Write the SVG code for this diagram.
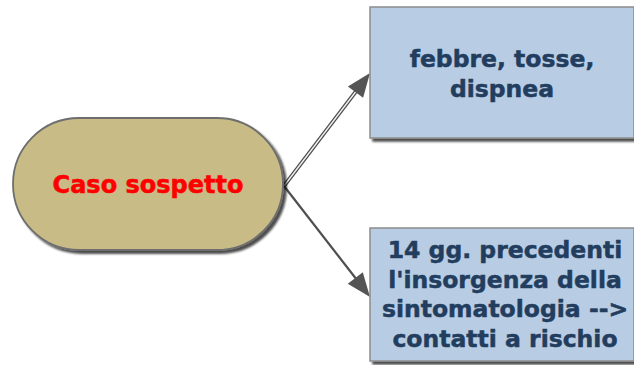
<svg xmlns="http://www.w3.org/2000/svg" width="634" height="365" viewBox="0 0 634 365">
<style>
.lbl{font-family:"DejaVu Sans","Verdana",sans-serif;font-weight:bold;text-anchor:middle;stroke-width:0.5}
.box{fill:#b8cde4;stroke:#8c8c8c;stroke-width:1.5}
.boxtxt{fill:#223d5e;stroke:#223d5e;font-size:23.5px}
.main{fill:#ff0000;stroke:#ff0000;font-size:24px}
.pill{fill:#c8bb85;stroke:#6e6e6e;stroke-width:1.8}
.head{fill:#555555}
</style>
<defs>
<filter id="sh" x="-10%" y="-10%" width="130%" height="130%">
<feGaussianBlur in="SourceAlpha" stdDeviation="1.2"/>
<feOffset dx="3" dy="3" result="b"/>
<feComponentTransfer><feFuncA type="linear" slope="0.7"/></feComponentTransfer>
<feMerge><feMergeNode/><feMergeNode in="SourceGraphic"/></feMerge>
</filter>
</defs>
<g id="connectors">
<line x1="284" y1="186" x2="357" y2="90" stroke="#4a4a4a" stroke-width="3.8"/>
<line x1="284" y1="186" x2="357" y2="90" stroke="#f2f2f2" stroke-width="1.4"/>
<polygon class="head" points="370,73 363.1,97.8 347.9,86.4"/>
<line x1="284" y1="186" x2="357" y2="280" stroke="#4f4f4f" stroke-width="2.2"/>
<polygon class="head" points="370,297 347.8,283.8 362.8,272.2"/>
</g>
<g id="node-caso">
<rect class="pill" x="13" y="118" width="270" height="132" rx="66" ry="66" filter="url(#sh)"/>
<text class="lbl main" x="148" y="193">Caso sospetto</text>
</g>
<g id="node-sintomi">
<rect class="box" x="370" y="7" width="264" height="131" filter="url(#sh)"/>
<text class="lbl boxtxt" x="502" y="67">febbre, tosse,</text>
<text class="lbl boxtxt" x="502" y="97">dispnea</text>
</g>
<g id="node-contatti">
<rect class="box" x="370" y="228" width="264" height="133" filter="url(#sh)"/>
<text class="lbl boxtxt" x="505" y="258">14 gg. precedenti</text>
<text class="lbl boxtxt" x="505" y="288">l'insorgenza della</text>
<text class="lbl boxtxt" x="505" y="317">sintomatologia --&gt;</text>
<text class="lbl boxtxt" x="505" y="347">contatti a rischio</text>
</g>
</svg>
